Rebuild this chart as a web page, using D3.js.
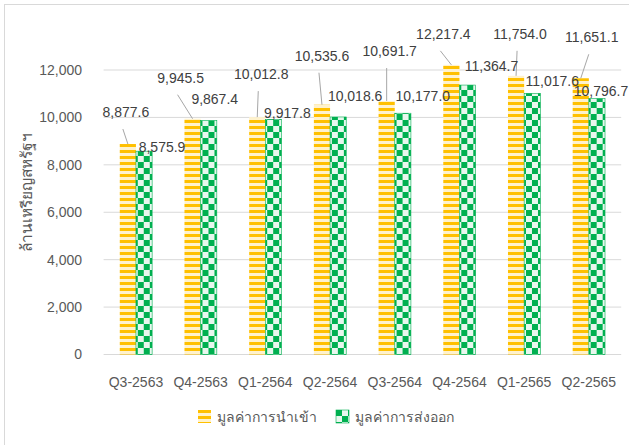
<!DOCTYPE html>
<html>
<head>
<meta charset="utf-8">
<script src="https://cdn.jsdelivr.net/npm/d3@7"></script>
<style>
  body { margin: 0; background: #fff; }
  svg { display: block; font-family: "Liberation Sans", Arial, "Noto Sans", sans-serif; }
</style>
</head>
<body>
<div id="d3"></div>
<script>
// chart values
const quarters = ["Q3-2563", "Q4-2563", "Q1-2564", "Q2-2564", "Q3-2564", "Q4-2564", "Q1-2565", "Q2-2565"];
const importValues = [8877.6, 9945.5, 10012.8, 10535.6, 10691.7, 12217.4, 11754.0, 11651.1];
const exportValues = [8575.9, 9867.4, 9917.8, 10018.6, 10177.0, 11364.7, 11017.6, 10796.7];
const yTicks = [0, 2000, 4000, 6000, 8000, 10000, 12000];
const seriesNames = ["มูลค่าการนำเข้า", "มูลค่าการส่งออก"];
const yTitle = "ล้านเหรียญสหรัฐฯ";

// label offsets from the top of each bar (labels were moved by hand in the original)
const importLabelShift = [[-2, -32], [-12, -41], [4, -43], [0, -49], [3, -50], [-8, -31], [4, -42], [11, -41]];
const exportLabelShift = [[18, -4], [6, -22], [14, -6], [17, -21], [20, -17], [24, -19], [20, -12], [4, -8]];

function renderChart() {
    const width = 629;
    const height = 445;
    const plot = { left: 103.6, right: 621.2, top: 70, bottom: 354.5 };

    const svg = d3.select("#d3")
        .append("svg")
        .attr("width", width)
        .attr("height", height);

    // fill patterns
    const defs = svg.append("defs");
    const stripes = defs.append("pattern")
        .attr("id", "stripes")
        .attr("patternUnits", "userSpaceOnUse")
        .attr("width", 6).attr("height", 6);
    stripes.append("rect").attr("width", 6).attr("height", 6).attr("fill", "#FFF2CC");
    stripes.append("rect").attr("width", 6).attr("height", 3).attr("fill", "#FFC000");

    const checks = defs.append("pattern")
        .attr("id", "checks")
        .attr("patternUnits", "userSpaceOnUse")
        .attr("width", 12).attr("height", 12);
    checks.append("rect").attr("width", 12).attr("height", 12).attr("fill", "#E8F7EE");
    checks.append("rect").attr("width", 6).attr("height", 6).attr("fill", "#00B050");
    checks.append("rect").attr("x", 6).attr("y", 6).attr("width", 6).attr("height", 6).attr("fill", "#00B050");

    // chart border
    svg.append("rect")
        .attr("x", 4.5).attr("y", 4.5)
        .attr("width", 700).attr("height", 500)
        .attr("fill", "none")
        .attr("stroke", "#D9D9D9");

    const x = d3.scaleBand()
        .domain(quarters)
        .range([plot.left, plot.right])
        .paddingInner(0.5)
        .paddingOuter(0.25);

    const xSub = d3.scaleBand()
        .domain([0, 1])
        .range([0, x.bandwidth()]);

    const y = d3.scaleLinear()
        .domain([0, 12000])
        .range([plot.bottom, plot.top]);

    // gridlines
    svg.append("g")
        .selectAll("line")
        .data(yTicks)
        .enter()
        .append("line")
        .attr("x1", plot.left)
        .attr("x2", plot.right)
        .attr("y1", d => y(d))
        .attr("y2", d => y(d))
        .attr("stroke", "#D9D9D9")
        .attr("stroke-width", 1);

    // y axis labels
    const yAxis = svg.append("g")
        .attr("transform", "translate(82,0)")
        .call(d3.axisLeft(y).tickValues(yTicks).tickSize(0).tickPadding(0).tickFormat(d3.format(",")));
    yAxis.select(".domain").remove();
    yAxis.selectAll("text")
        .attr("fill", "#595959")
        .style("font-size", "14px")
        .style("font-family", "'Liberation Sans', Arial, sans-serif");

    // x axis labels
    const xAxis = svg.append("g")
        .attr("transform", "translate(0," + plot.bottom + ")")
        .call(d3.axisBottom(x).tickSize(0).tickPadding(23));
    xAxis.select(".domain").remove();
    xAxis.selectAll("text")
        .attr("fill", "#595959")
        .style("font-size", "14px")
        .style("font-family", "'Liberation Sans', Arial, sans-serif");

    // y title
    svg.append("text")
        .attr("transform", "translate(32,192) rotate(-90)")
        .attr("text-anchor", "middle")
        .attr("fill", "#595959")
        .style("font-size", "15.5px")
        .text(yTitle);

    const rows = quarters.map((q, i) => ({ q: q, i: i, values: [importValues[i], exportValues[i]] }));

    // bars
    const groups = svg.append("g")
        .selectAll("g")
        .data(rows)
        .enter()
        .append("g")
        .attr("transform", d => "translate(" + x(d.q) + ",0)");

    groups.selectAll("rect")
        .data(d => d.values.map((v, k) => ({ k: k, v: v })))
        .enter()
        .append("rect")
        .attr("x", d => xSub(d.k))
        .attr("width", xSub.bandwidth())
        .attr("y", d => y(d.v))
        .attr("height", d => y(0) - y(d.v))
        .attr("fill", d => d.k === 0 ? "url(#stripes)" : "url(#checks)")
        .attr("stroke", d => d.k === 0 ? "none" : "#00B050")
        .attr("stroke-width", 0.6);

    // leader lines for import labels
    svg.append("g")
        .selectAll("line")
        .data(rows)
        .enter()
        .append("line")
        .attr("x1", d => x(d.q) + xSub(0) + xSub.bandwidth() / 2 + importLabelShift[d.i][0] - 3)
        .attr("y1", d => y(importValues[d.i]) + importLabelShift[d.i][1] + 17)
        .attr("x2", d => x(d.q) + xSub(0) + xSub.bandwidth() / 2)
        .attr("y2", d => y(importValues[d.i]))
        .attr("stroke", "#A6A6A6")
        .attr("stroke-width", 1);

    // data labels
    const fmt = d3.format(",.1f");
    const labels = svg.append("g")
        .attr("fill", "#404040")
        .style("font-size", "14px")
        .attr("text-anchor", "middle");

    labels.selectAll("text.imp")
        .data(rows)
        .enter()
        .append("text")
        .attr("class", "imp")
        .attr("x", d => x(d.q) + xSub(0) + xSub.bandwidth() / 2 + importLabelShift[d.i][0])
        .attr("y", d => y(importValues[d.i]) + importLabelShift[d.i][1] + 5)
        .text(d => fmt(importValues[d.i]));

    labels.selectAll("text.exp")
        .data(rows)
        .enter()
        .append("text")
        .attr("class", "exp")
        .attr("x", d => x(d.q) + xSub(1) + xSub.bandwidth() / 2 + exportLabelShift[d.i][0])
        .attr("y", d => y(exportValues[d.i]) + exportLabelShift[d.i][1] + 5)
        .text(d => fmt(exportValues[d.i]));

    // legend
    const legendX = [198, 336];
    const legend = svg.append("g")
        .selectAll("g")
        .data(seriesNames)
        .enter()
        .append("g")
        .attr("transform", (d, i) => "translate(" + legendX[i] + ",410)");

    legend.append("rect")
        .attr("width", 13)
        .attr("height", 13)
        .attr("fill", (d, i) => i === 0 ? "url(#stripes)" : "url(#checks)")
        .attr("stroke", (d, i) => i === 0 ? "none" : "#00B050")
        .attr("stroke-width", 0.6);

    legend.append("text")
        .attr("x", 19)
        .attr("y", 12)
        .attr("fill", "#595959")
        .style("font-size", "14px")
        .text(d => d);
}

renderChart();
</script>
</body>
</html>
